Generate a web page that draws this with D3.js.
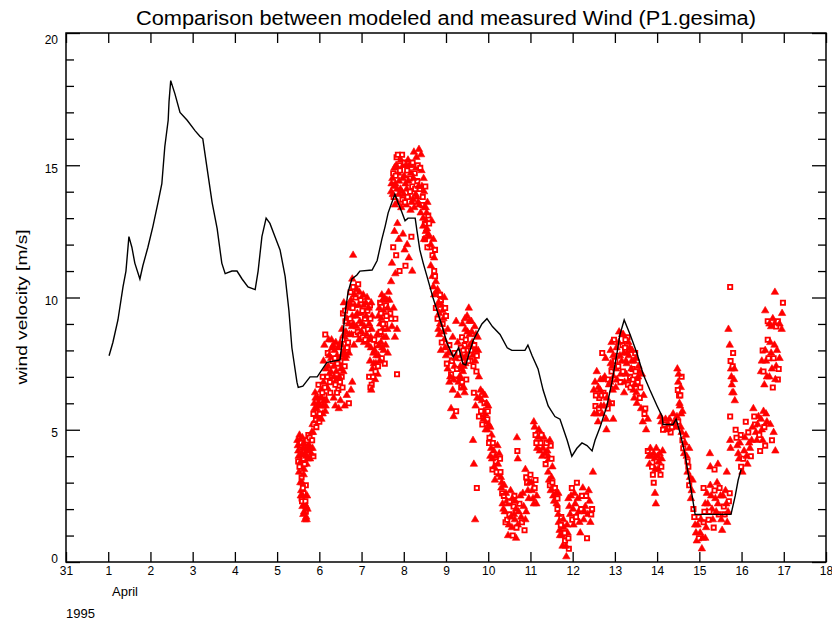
<!DOCTYPE html>
<html>
<head>
<meta charset="utf-8">
<script src="https://cdn.jsdelivr.net/npm/d3@7"></script>
<style>
  html, body { margin: 0; padding: 0; background: #fff; }
  svg text { font-family: "Liberation Sans", "DejaVu Sans", sans-serif; fill: #000; }
</style>
</head>
<body>
<svg id="chart" width="832" height="628"></svg>
<script>
// ---- axis definitions ----
const dayTicks = d3.range(0, 19);                 // 0 = 31 March, 1..18 = April
const dayLabels = ["31","1","2","3","4","5","6","7","8","9","10","11","12","13","14","15","16","17","18"];
const speedMajor = [0, 5, 10, 15, 20];
const speedMinor = d3.range(0, 21).filter(v => v % 5 !== 0);

// ---- modelled wind speed (day of April, m/s) ----
const modelDay = [1.02,1.11,1.23,1.35,1.42,1.49,1.56,1.63,1.75,1.82,1.94,2.06,2.18,2.27,2.34,2.42,2.44,2.48,2.58,2.70,2.87,3.06,3.17,3.24,3.34,3.46,3.58,3.69,3.77,3.93,4.05,4.17,4.31,4.48,4.55,4.64,4.74,4.83,4.95,5.07,5.19,5.28,5.35,5.47,5.50,5.61,5.78,5.95,6.06,6.18,6.49,6.54,6.61,6.68,6.77,6.89,6.96,7.25,7.37,7.48,7.56,7.63,7.72,7.79,7.86,7.96,8.03,8.10,8.27,8.31,8.38,8.46,8.55,8.62,8.69,8.79,8.86,8.93,9.02,9.17,9.30,9.40,9.47,9.55,9.65,9.75,9.85,9.97,10.10,10.28,10.45,10.56,10.87,10.94,11.04,11.18,11.30,11.42,11.58,11.70,11.87,11.98,12.10,12.22,12.34,12.46,12.53,12.65,12.81,12.93,13.05,13.12,13.22,13.36,13.52,13.67,13.83,14.00,14.12,14.14,14.38,14.45,14.54,14.66,14.73,14.83,14.90,15.75,15.85,15.92,15.99];
const modelSpeed = [7.8,8.3,9.15,10.4,11.0,12.3,11.9,11.3,10.7,11.2,11.9,12.7,13.6,14.3,15.7,16.7,17.4,18.2,17.7,17.0,16.7,16.3,16.1,16.0,14.9,13.6,12.6,11.3,10.9,11.0,11.0,10.7,10.4,10.3,11.0,12.3,13.0,12.8,12.3,11.8,10.8,9.5,8.1,6.8,6.6,6.65,7.0,7.0,7.26,7.55,7.64,8.3,9.4,10.2,10.7,10.85,11.0,11.04,11.4,12.2,12.7,13.2,13.6,13.9,13.6,13.2,12.9,13.0,13.0,12.55,11.8,11.3,10.8,10.4,10.0,9.5,9.15,8.8,8.3,7.75,8.1,7.5,7.45,7.9,8.4,8.7,9.0,9.2,8.9,8.6,8.1,8.0,8.0,8.2,7.8,7.3,6.5,5.9,5.5,5.4,4.6,4.0,4.3,4.5,4.4,4.2,4.6,5.1,5.9,6.8,7.9,8.6,9.15,8.6,7.9,7.1,6.5,5.9,5.5,5.2,5.2,5.4,4.9,4.1,3.4,2.5,1.8,1.8,2.5,3.1,3.5];

// ---- measured wind speed, [day of April, m/s] ----
const obsApr5 = [[5.48,4.6],[5.50,4.2],[5.50,3.8],[5.52,3.4],[5.53,4.8],[5.55,4.4],[5.56,4.0],[5.57,3.6],[5.58,3.2],[5.60,4.7],[5.61,4.3],[5.62,3.9],[5.64,3.5],[5.66,4.1],[5.68,4.5],[5.70,3.7],[5.72,4.2],[5.74,4.8],[5.76,4.4],[5.78,3.9],[5.80,4.6],[5.82,4.9],[5.84,4.3],[5.86,4.0],
  [5.55,3.0],[5.57,2.7],[5.58,2.4],[5.60,2.1],[5.62,1.8],[5.63,2.6],[5.65,2.2],[5.66,1.6],[5.68,1.9],[5.70,1.6],[5.72,2.0],[5.68,2.9],[5.71,2.5],
  [5.84,5.2],[5.86,5.6],[5.88,6.0],[5.90,6.4],[5.92,5.4],[5.94,5.8],[5.96,6.2],[5.98,6.7],
  [5.49,4.4],[5.51,4.0],[5.53,3.6],[5.54,4.6],[5.56,3.8],[5.57,4.5],[5.59,4.1],[5.59,3.0],[5.61,2.8],[5.63,3.3],[5.63,4.5],[5.65,3.7],[5.67,4.3],[5.69,4.0],[5.71,4.6],[5.73,3.9],[5.75,4.2],[5.77,4.7],[5.79,4.3],[5.81,4.1],[5.83,4.6],[5.85,4.9],
  [5.56,2.5],[5.59,2.3],[5.61,2.5],[5.64,1.9],[5.67,2.3],[5.69,2.1],[5.69,1.7],
  [5.87,5.2],[5.89,5.8],[5.91,6.2],[5.93,5.1],[5.95,5.5],[5.97,6.0]];
const obsApr6 = [[6.00,5.3],[6.02,5.9],[6.04,6.5],[6.06,6.1],[6.08,5.6],[6.10,6.8],[6.12,6.3],[6.15,5.9],[6.18,6.6],
  [6.08,7.0],[6.10,7.6],[6.12,8.2],[6.14,8.6],[6.16,7.3],[6.18,6.6],[6.20,7.9],[6.22,8.4],[6.24,7.1],[6.26,6.4],[6.28,7.7],[6.30,8.1],[6.32,6.9],[6.34,7.4],[6.36,8.0],[6.38,6.7],[6.40,7.2],[6.42,7.8],[6.45,6.5],[6.48,7.5],[6.50,8.3],[6.53,7.0],[6.56,7.9],[6.58,8.6],[6.60,7.4],
  [6.34,6.2],[6.38,5.9],[6.42,6.4],[6.46,5.8],[6.50,6.1],[6.55,6.6],[6.60,5.9],[6.65,6.3],[6.70,6.0],[6.75,6.5],[6.78,6.8],
  [6.50,7.6],[6.52,8.2],[6.54,8.8],[6.56,9.4],[6.58,9.8],[6.60,8.5],[6.62,9.1],[6.64,7.8],[6.66,9.6],[6.68,8.3],[6.70,9.0],
  [6.72,9.8],[6.74,10.2],[6.76,8.6],[6.78,9.3],[6.80,10.4],[6.82,8.2],[6.84,9.7],[6.86,10.0],[6.88,8.9],[6.90,9.4],[6.92,10.5],[6.94,8.4],[6.96,9.1],[6.98,9.9],
  [6.78,10.7],[6.80,11.6],
  [6.01,5.6],[6.03,6.2],[6.05,5.4],[6.07,6.4],[6.09,5.9],[6.11,6.1],[6.13,6.6],[6.14,5.7],[6.17,6.1],[6.19,7.0],[6.21,7.4],[6.23,7.8],[6.25,6.8],[6.27,7.2],[6.29,8.4],[6.31,7.6],[6.33,8.2],[6.35,7.0],[6.37,7.7],[6.39,8.3],[6.41,6.9],[6.43,7.5],[6.44,8.1],[6.47,7.0],[6.49,6.8],[6.51,7.3],[6.53,7.8],[6.55,8.4],[6.57,7.2],[6.59,8.0],
  [6.61,9.5],[6.63,8.7],[6.65,9.2],[6.67,8.0],[6.69,9.7],[6.71,8.6],[6.73,9.2],[6.75,9.9],[6.77,8.9],[6.79,9.6],[6.81,9.0],[6.83,10.1],[6.85,8.6],[6.87,9.3],[6.89,10.3],[6.91,8.7],[6.93,9.7],[6.95,10.2],[6.97,8.6],[6.99,9.4],
  [6.62,7.7],[6.66,8.1],[6.70,7.9]];
const obsApr7 = [[7.00,8.7],[7.02,9.5],[7.04,10.1],[7.06,8.3],[7.08,9.2],[7.10,9.8],[7.12,8.6],[7.14,9.5],[7.16,8.2],[7.18,9.0],[7.20,9.7],[7.22,8.5],[7.25,9.3],
  [7.18,7.0],[7.20,7.6],[7.22,8.1],[7.24,6.7],[7.26,7.3],[7.28,7.9],[7.30,8.4],[7.32,6.9],[7.34,7.5],[7.36,8.2],[7.38,7.1],[7.40,7.8],[7.42,8.6],[7.44,9.0],[7.46,8.3],[7.48,7.7],[7.50,8.8],[7.52,8.0],[7.55,7.5],[7.58,8.5],[7.62,7.9],[7.21,6.6],[7.23,6.5],
  [7.40,9.3],[7.44,9.8],[7.48,10.1],[7.52,9.5],[7.56,9.0],[7.60,9.9],[7.64,10.2],[7.68,9.4],[7.72,8.9],[7.76,9.6],[7.80,9.2],[7.84,8.8],[7.79,8.5],[7.84,7.1],
  [7.70,10.6],[7.72,11.3],[7.75,11.9],[7.78,12.5],[7.80,10.9],[7.82,11.6],[7.85,12.8],[7.88,12.2],[7.90,11.0],
  [7.70,14.0],[7.73,14.5],[7.76,13.8],[7.78,14.9],[7.80,14.3],[7.83,15.3],[7.85,13.6],[7.87,14.7],[7.90,15.0],[7.92,14.1],[7.94,13.4],[7.96,15.4],[7.98,14.5],
  [7.01,9.0],[7.03,8.5],[7.05,9.7],[7.07,8.9],[7.09,8.4],[7.11,9.3],[7.13,10.0],[7.15,8.8],[7.17,9.6],[7.19,8.4],[7.21,9.2],[7.23,9.8],[7.24,8.8],
  [7.27,7.0],[7.29,7.5],[7.31,8.0],[7.33,7.2],[7.35,7.8],[7.37,8.6],[7.39,7.4],[7.41,8.2],[7.43,7.6],[7.45,8.7],[7.47,9.2],[7.49,8.1],[7.51,9.0],[7.53,8.5],[7.57,8.2],[7.59,9.3],[7.61,8.8],
  [7.42,9.6],[7.46,9.4],[7.50,9.9],[7.54,10.0],[7.58,9.7],[7.62,9.6],[7.66,9.9],[7.70,9.2],
  [7.71,14.3],[7.74,13.9],[7.75,14.7],[7.77,14.2],[7.79,13.5],[7.81,14.6],[7.82,15.0],[7.84,14.1],[7.86,15.4],[7.88,13.9],[7.89,14.4],[7.91,14.8],[7.93,15.2],[7.95,14.0],[7.97,13.7],[7.99,15.0]];
const obsApr8 = [[8.00,13.9],[8.02,15.1],[8.04,14.3],[8.06,13.5],[8.08,14.8],[8.10,15.2],[8.12,13.8],[8.14,14.5],[8.16,13.3],[8.18,15.0],[8.20,14.2],[8.22,13.7],[8.24,15.5],[8.26,14.7],[8.28,13.9],[8.30,15.3],[8.32,14.4],[8.34,13.6],[8.36,15.6],[8.38,14.1],[8.40,13.2],[8.42,14.8],[8.44,13.5],[8.46,13.0],[8.48,14.0],[8.50,12.8],[8.52,13.4],[8.55,12.6],[8.58,13.1],
  [7.98,12.4],[8.02,11.8],[8.04,11.2],[8.08,12.0],[8.12,11.5],[8.18,12.3],[8.20,11.0],
  [8.46,12.7],[8.50,12.2],[8.54,13.2],[8.58,12.4],[8.62,11.9],[8.66,12.9],[8.70,12.2],[8.74,11.8],
  [8.64,11.2],[8.68,10.8],[8.72,11.0],[8.76,10.6],
  [8.72,10.1],[8.76,9.6],[8.80,10.3],[8.84,9.4],[8.88,9.9],[8.92,9.5],[8.96,10.0],
  [8.80,9.2],[8.84,8.6],[8.88,8.0],[8.92,9.0],[8.96,8.4],
  [8.01,14.6],[8.03,13.6],[8.05,15.0],[8.07,14.1],[8.09,13.8],[8.11,14.4],[8.13,15.0],[8.15,14.0],[8.17,14.7],[8.19,13.6],[8.21,15.1],[8.23,14.5],[8.25,13.4],[8.27,14.1],[8.29,14.9],[8.31,13.8],[8.33,15.0],[8.35,14.2],[8.37,13.5],[8.39,14.9],[8.41,15.4],[8.43,14.2],[8.45,13.8],[8.47,14.5],[8.49,13.4],[8.51,14.2],[8.53,12.9],[8.56,13.6],[8.60,12.8],
  [8.48,12.2],[8.52,12.5],[8.56,11.9],[8.60,12.3],[8.64,12.0],[8.68,11.6],[8.72,11.5],
  [8.70,10.4],[8.74,10.8],[8.78,10.2],[8.82,9.8],[8.86,10.1],[8.90,9.7],[8.94,9.2],[8.98,9.6],
  [8.82,8.8],[8.86,9.0],[8.90,8.3],[8.94,8.7],[8.98,8.1]];
const obsApr9 = [[9.00,9.3],[9.00,7.8],[9.04,8.8],[9.08,8.2],[9.12,7.6],[9.16,8.5],[9.20,7.9],[9.24,9.1],[9.28,8.3],[9.32,7.7],
  [9.04,7.3],[9.08,6.8],[9.12,7.1],[9.16,6.5],[9.20,7.4],[9.24,6.9],[9.28,6.3],[9.32,7.0],[9.36,6.6],[9.40,7.2],[9.44,6.4],[9.48,6.9],
  [9.12,5.8],[9.18,5.5],[9.24,5.7],
  [9.34,7.0],[9.36,7.8],[9.38,8.5],[9.40,6.6],[9.42,7.4],[9.44,8.2],[9.46,8.8],[9.50,9.3],[9.52,8.0],[9.54,9.6],[9.56,8.6],[9.58,7.6],[9.60,9.1],[9.62,8.3],[9.65,7.4],[9.68,8.9],[9.70,8.0],[9.72,7.2],[9.75,8.5],[9.78,7.0],
  [9.66,6.4],[9.70,5.9],[9.74,6.2],[9.78,5.5],[9.82,6.5],[9.85,6.1],[9.88,5.6],[9.92,6.3],[9.95,5.3],[9.86,5.2],[9.90,5.7],[9.94,5.0],[9.98,5.4],
  [9.64,4.6],[9.66,3.7],[9.73,2.8],[9.69,1.6],
  [9.98,5.0],
  [9.02,7.5],[9.06,7.9],[9.10,7.0],[9.14,7.6],[9.18,6.9],[9.22,7.7],[9.26,7.3],[9.30,6.8],[9.34,7.4],[9.38,6.8],[9.42,6.6],[9.46,7.5],
  [9.35,8.1],[9.37,7.3],[9.39,9.0],[9.41,8.0],[9.43,7.7],[9.45,9.2],[9.47,8.4],[9.49,7.8],[9.51,8.7],[9.53,7.6],[9.55,9.1],[9.57,8.2],[9.59,8.0],[9.61,8.7],[9.63,7.8],[9.67,8.2],[9.69,7.6],[9.71,8.6],[9.73,7.8],[9.76,8.0],
  [9.80,6.2],[9.83,5.7],[9.87,6.4],[9.89,5.4],[9.91,6.0],[9.93,5.6],[9.96,6.0],[9.99,5.7]];
const obsApr10 = [[10.00,5.9],[10.05,5.1],[10.02,4.5],[10.05,4.0],[10.08,4.8],[10.10,3.5],[10.13,4.2],[10.16,3.1],[10.18,3.8],[10.22,4.4],[10.25,3.3],[10.28,3.9],[10.32,3.0],
  [10.30,3.2],[10.33,2.6],[10.36,2.0],[10.38,2.9],[10.41,1.5],[10.44,2.3],[10.47,1.0],[10.50,1.8],[10.53,2.7],[10.56,1.3],[10.60,2.1],[10.63,1.6],[10.66,0.9],
  [10.62,2.5],[10.66,2.0],[10.70,1.4],[10.74,2.2],[10.78,1.7],[10.82,2.6],[10.86,1.2],[10.90,1.9],
  [10.68,4.7],[10.69,4.2],[10.70,3.9],
  [10.88,3.5],[10.92,3.0],[10.96,2.4],
  [10.01,5.2],[10.03,4.7],[10.07,4.3],[10.09,3.9],[10.11,4.5],[10.14,3.6],[10.17,4.0],[10.20,3.4],[10.23,3.7],[10.26,4.1],[10.29,3.4],
  [10.31,2.8],[10.34,2.2],[10.37,2.5],[10.39,1.9],[10.42,2.6],[10.45,1.6],[10.48,2.2],[10.49,1.4],[10.51,2.3],[10.54,1.7],[10.57,2.4],[10.58,1.0],[10.61,1.8],[10.64,2.3],[10.67,1.3],
  [10.72,1.9],[10.76,2.5],[10.80,1.5],[10.84,2.1],[10.88,1.6],
  [10.90,3.2],[10.94,2.7],[10.98,3.0]];
const obsApr11 = [[11.00,3.3],[11.04,2.7],[11.08,2.2],[11.12,3.1],[11.15,2.5],
  [11.08,5.3],[11.12,4.8],[11.16,4.3],[11.20,5.0],[11.24,4.5],[11.28,4.0],[11.32,4.7],[11.36,3.7],[11.40,4.2],[11.44,3.9],[11.48,4.4],[11.52,3.6],
  [11.42,3.4],[11.46,2.9],[11.50,3.2],[11.54,2.5],[11.58,2.8],[11.62,2.2],[11.66,2.6],
  [11.64,2.0],[11.67,1.5],[11.70,1.0],[11.73,1.7],[11.76,0.6],[11.79,1.3],[11.82,0.8],[11.85,0.2],[11.88,1.1],[11.91,0.5],
  [11.90,2.4],[11.94,1.8],[11.98,2.8],
  [11.02,3.0],[11.06,2.4],[11.10,2.8],[11.14,2.2],
  [11.10,5.1],[11.14,4.5],[11.18,4.7],[11.22,4.2],[11.26,4.8],[11.30,4.3],[11.34,4.1],[11.38,4.5],[11.42,4.0],[11.46,4.6],[11.50,3.9],
  [11.44,3.1],[11.48,2.7],[11.52,3.0],[11.56,2.3],[11.60,2.6],[11.64,2.4],
  [11.66,1.8],[11.69,1.2],[11.72,1.4],[11.75,1.0],[11.78,1.6],[11.81,1.1],[11.84,0.6],[11.87,1.4],[11.90,0.9],
  [11.92,2.1],[11.96,2.5],[11.99,1.6]];
const obsApr12 = [[12.02,1.4],[12.06,2.2],[12.10,3.0],[12.14,1.9],[12.18,1.1],[12.22,2.5],[12.26,1.6],[12.30,2.1],[12.34,0.9],[12.38,2.7],[12.42,1.5],[12.46,2.0],[12.48,3.4],
  [12.50,6.5],[12.54,5.9],[12.57,7.2],[12.60,5.3],[12.63,6.2],[12.66,6.9],[12.70,5.6],[12.73,6.4],[12.76,7.0],[12.80,5.0],[12.83,5.8],[12.86,6.7],[12.90,7.5],[12.93,6.0],[12.96,5.4],
  [12.78,7.7],[12.70,7.9],[12.90,8.0],[12.94,7.4],[12.98,8.4],
  [12.01,2.0],[12.04,2.6],[12.08,1.7],[12.12,2.4],[12.16,1.5],[12.20,2.0],[12.24,2.8],[12.28,1.9],[12.32,2.5],[12.36,1.8],[12.40,2.3],[12.44,1.8],
  [12.51,5.6],[12.53,6.8],[12.55,6.3],[12.58,5.6],[12.61,6.6],[12.62,5.8],[12.65,6.5],[12.67,5.9],[12.69,6.3],[12.72,6.9],[12.74,5.9],[12.77,6.3],[12.79,5.4],[12.81,6.2],[12.84,6.9],[12.87,6.0],[12.89,6.8],[12.92,7.2],[12.95,6.5],[12.97,7.0],[12.99,7.6],
  [12.92,8.3],[12.96,7.8]];
const obsApr13 = [[13.00,6.9],[13.03,7.3],[13.02,6.6],[13.06,7.8],[13.10,8.7],[13.14,7.1],[13.18,8.2],[13.22,6.4],[13.26,7.6],[13.30,8.5],[13.34,6.9],[13.38,8.0],[13.42,7.3],[13.46,6.2],[13.50,7.7],[13.54,6.8],[13.58,7.2],
  [13.20,8.6],[13.24,8.1],[13.28,7.5],[13.32,8.3],[13.36,7.0],[13.40,7.6],[13.44,6.5],[13.48,7.9],[13.52,6.0],[13.56,7.4],[13.60,6.6],[13.64,7.1],[13.68,6.3],[13.72,5.8],
  [13.62,5.8],[13.66,5.3],[13.70,5.6],[13.74,5.0],[13.78,5.4],
  [13.78,4.2],[13.82,3.7],[13.86,4.0],[13.90,3.3],[13.94,3.9],[13.98,4.3],
  [13.92,3.0],[13.95,2.6],[13.97,2.2],
  [13.01,7.6],[13.04,8.1],[13.05,6.9],[13.08,7.4],[13.09,8.3],[13.12,7.8],[13.13,6.8],[13.16,7.6],[13.17,8.6],[13.19,7.2],[13.21,7.9],[13.23,6.8],[13.25,8.4],[13.27,7.1],[13.29,7.9],[13.31,6.7],[13.33,7.8],[13.35,8.1],[13.37,6.6],[13.39,7.3],[13.41,8.0],[13.43,6.9],[13.45,7.6],[13.47,6.7],[13.49,7.2],[13.51,6.4],[13.55,7.0],[13.59,6.2],
  [13.80,4.0],[13.84,4.3],[13.88,3.6],[13.92,4.1],[13.96,3.5],[13.99,3.8]];
const obsApr14 = [[14.02,3.5],[14.06,4.1],[14.10,3.6],[14.13,4.2],
  [14.08,5.5],[14.14,5.0],[14.20,5.4],[14.26,5.2],[14.32,4.9],[14.38,5.6],[14.44,5.1],[14.50,5.3],
  [14.48,7.3],[14.50,6.8],[14.52,6.3],[14.54,5.9],[14.56,6.6],[14.58,7.0],[14.60,5.7],
  [14.56,5.1],[14.60,4.6],[14.64,4.1],[14.68,4.8],[14.72,3.8],[14.76,4.3],
  [14.72,3.4],[14.76,2.9],[14.80,2.4],[14.84,3.1],
  [14.86,2.0],[14.90,1.4],[14.94,0.8],[14.98,1.7],
  [14.01,4.0],[14.04,3.8],[14.08,3.3],[14.11,3.9],
  [14.10,5.3],[14.17,5.2],[14.23,5.0],[14.29,5.4],[14.35,5.1],[14.41,5.3],[14.47,5.5],
  [14.49,6.5],[14.51,7.1],[14.53,6.0],[14.55,6.3],[14.57,5.6],
  [14.58,4.9],[14.62,4.3],[14.66,4.5],[14.70,4.0],[14.74,3.6],[14.78,3.2],[14.82,2.7],
  [14.88,1.7],[14.92,1.1],[14.96,1.4],[14.99,0.9]];
const obsApr15 = [[15.02,1.1],[15.06,0.5],[15.10,1.5],[15.14,0.9],[15.18,1.9],
  [15.10,2.8],[15.14,2.2],[15.18,2.6],[15.22,1.6],[15.26,2.9],[15.30,2.0],[15.34,1.3],[15.38,2.4],[15.42,3.0],[15.46,1.8],[15.50,2.5],[15.54,1.2],[15.58,2.1],[15.62,2.7],[15.66,1.5],[15.70,2.3],
  [15.25,4.1],[15.26,3.6],[15.36,3.5],[15.44,3.7],[15.65,3.4],
  [15.73,10.4],[15.69,8.8],[15.72,8.2],[15.74,7.6],[15.76,7.0],[15.78,6.4],[15.80,7.9],[15.82,6.9],[15.84,6.1],
  [15.73,5.5],[15.73,4.6],[15.74,4.3],
  [15.86,5.0],[15.90,4.4],[15.94,3.9],[15.98,4.8],
  [15.04,1.6],[15.08,0.9],[15.12,1.9],[15.16,1.3],[15.20,2.2],[15.24,1.9],[15.28,2.5],[15.32,1.6],[15.36,2.7],[15.40,1.9],[15.44,2.2],[15.48,2.8],[15.52,1.6],[15.56,2.5],[15.60,1.8],[15.64,2.2],[15.68,1.9],[15.72,2.6],
  [15.75,7.3],[15.77,6.7],[15.79,7.4],[15.81,6.4],[15.83,7.3],
  [15.88,4.7],[15.92,4.1],[15.96,4.5],[15.99,3.6]];
const obsApr16 = [[16.02,3.4],[16.06,4.2],[16.10,5.3],[16.14,3.7],[16.18,4.5],[16.22,4.0],[16.26,5.1],
  [16.28,5.8],[16.32,5.2],[16.36,4.6],[16.40,5.5],[16.44,4.2],[16.48,5.0],[16.52,5.7],[16.56,4.4],[16.60,5.3],
  [16.46,7.2],[16.50,8.0],[16.54,6.7],[16.58,7.6],[16.62,8.4],[16.66,7.0],[16.70,7.9],[16.74,6.6],[16.78,8.2],[16.82,7.4],[16.86,6.9],[16.90,7.7],
  [16.56,9.5],[16.62,9.1],[16.70,8.9],[16.78,9.0],[16.86,9.1],[16.95,8.8],[16.79,10.2],[16.98,9.8],[16.96,9.4],
  [16.68,5.2],[16.72,4.6],[16.76,4.9],[16.80,4.2],
  [16.04,3.9],[16.08,4.7],[16.12,4.0],[16.16,4.9],[16.20,4.3],[16.24,4.6],
  [16.30,5.5],[16.34,4.9],[16.38,5.2],[16.42,4.8],[16.46,5.4],[16.50,4.6],[16.54,5.1],[16.58,5.6],
  [16.48,7.6],[16.52,7.2],[16.56,8.0],[16.60,7.0],[16.64,7.7],[16.68,8.3],[16.72,7.3],[16.76,7.7],[16.80,6.9],[16.84,8.0],[16.88,7.3],
  [16.66,9.0],[16.74,9.2],[16.82,8.9],[16.90,9.0]];

const observed = [].concat(obsApr5, obsApr6, obsApr7, obsApr8, obsApr9, obsApr10,
                           obsApr11, obsApr12, obsApr13, obsApr14, obsApr15, obsApr16);

// ---- layout ----
const svg = d3.select("#chart");
const plotL = 66, plotR = 826, plotT = 33, plotB = 562;
const x = d3.scaleLinear().domain([0, 18]).range([plotL, plotR]);
const y = d3.scaleLinear().domain([0, 20]).range([plotB, plotT]);

// title
svg.append("text")
  .attr("x", 446).attr("y", 25)
  .attr("text-anchor", "middle")
  .attr("font-size", 20)
  .attr("textLength", 620).attr("lengthAdjust", "spacingAndGlyphs")
  .text("Comparison between modeled and measured Wind  (P1.gesima)");

// measured values: red triangles and open squares
const tri = d3.symbol().type(d3.symbolTriangle).size(24)();
const sq = d3.symbol().type(d3.symbolSquare).size(18)();
svg.append("g").selectAll("path.obs")
  .data(observed)
  .join("path")
  .attr("class", "obs")
  .attr("transform", d => `translate(${x(d[0])},${y(d[1])})`)
  .attr("d", (d, i) => i % 3 === 2 ? sq : tri)
  .attr("fill", (d, i) => i % 3 === 2 ? "#fff" : "#ff0000")
  .attr("stroke", "#ff0000")
  .attr("stroke-width", (d, i) => i % 3 === 2 ? 1.8 : 0.6);

// modelled line
const model = modelDay.map((d, i) => [d, modelSpeed[i]]);
svg.append("path")
  .datum(model)
  .attr("fill", "none")
  .attr("stroke", "#000")
  .attr("stroke-width", 1.4)
  .attr("d", d3.line().x(d => x(d[0])).y(d => y(d[1])));

// axes
const fmtDay = d => dayLabels[dayTicks.indexOf(d)];
function clean(g) { g.select(".domain").remove(); g.selectAll("line").attr("stroke", "#000").attr("stroke-width", 1.3); }

svg.append("g").attr("transform", `translate(0,${plotB})`)
  .call(d3.axisBottom(x).tickValues(dayTicks).tickFormat(fmtDay).tickSizeInner(-10).tickSizeOuter(0).tickPadding(4))
  .call(clean)
  .call(g => g.selectAll("text").attr("font-size", 12).attr("font-family", "Liberation Sans").attr("fill", "#000"));

svg.append("g").attr("transform", `translate(0,${plotT})`)
  .call(d3.axisTop(x).tickValues(dayTicks).tickFormat("").tickSizeInner(-10).tickSizeOuter(0))
  .call(clean);

svg.append("g").attr("transform", `translate(${plotL},0)`)
  .call(d3.axisLeft(y).tickValues(speedMajor).tickFormat(d3.format("d")).tickSizeInner(-14).tickSizeOuter(0).tickPadding(8))
  .call(clean)
  .call(g => g.selectAll("text").attr("font-size", 12).attr("font-family", "Liberation Sans").attr("fill", "#000")
    .attr("dy", d => d === 20 ? "0.85em" : d === 0 ? "0.05em" : "0.6em"));

svg.append("g").attr("transform", `translate(${plotL},0)`)
  .call(d3.axisLeft(y).tickValues(speedMinor).tickFormat("").tickSizeInner(-8).tickSizeOuter(0))
  .call(clean);

svg.append("g").attr("transform", `translate(${plotR},0)`)
  .call(d3.axisRight(y).tickValues(speedMajor).tickFormat("").tickSizeInner(-14).tickSizeOuter(0))
  .call(clean);

svg.append("g").attr("transform", `translate(${plotR},0)`)
  .call(d3.axisRight(y).tickValues(speedMinor).tickFormat("").tickSizeInner(-8).tickSizeOuter(0))
  .call(clean);

// frame
svg.append("rect")
  .attr("x", plotL).attr("y", plotT)
  .attr("width", plotR - plotL).attr("height", plotB - plotT)
  .attr("fill", "none").attr("stroke", "#000").attr("stroke-width", 1.5);

// axis titles
svg.append("text")
  .attr("transform", "translate(27,307) rotate(-90)")
  .attr("text-anchor", "middle")
  .attr("font-size", 15)
  .attr("textLength", 155).attr("lengthAdjust", "spacingAndGlyphs")
  .text("wind velocity [m/s]");

svg.append("text").attr("x", 112).attr("y", 596).attr("font-size", 13).text("April");
svg.append("text").attr("x", 66).attr("y", 618).attr("font-size", 13).text("1995");
</script>
</body>
</html>
